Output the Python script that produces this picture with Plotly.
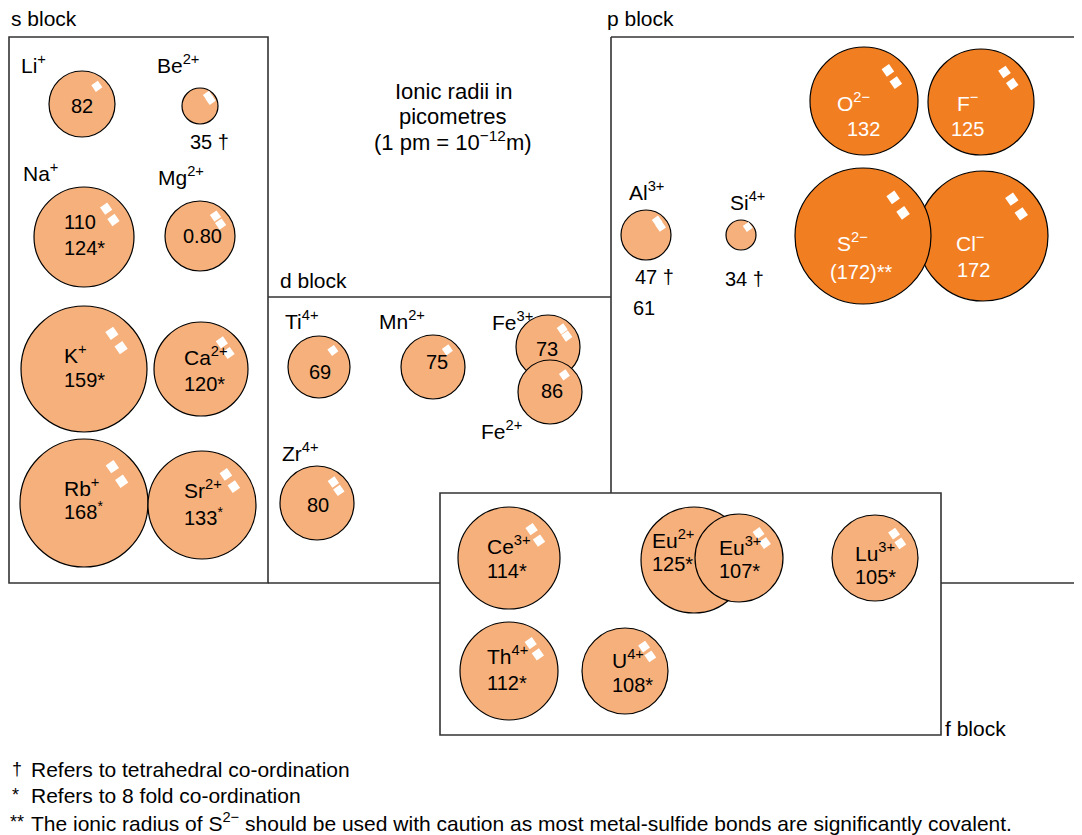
import math
import plotly.graph_objects as go

# ---- data: ion, radius text, colour group ----
ions = ["Li<sup>+</sup>", "Be<sup>2+</sup>", "Na<sup>+</sup>", "Mg<sup>2+</sup>", "K<sup>+</sup>", "Ca<sup>2+</sup>",
        "Rb<sup>+</sup>", "Sr<sup>2+</sup>",
        "Al<sup>3+</sup>", "Si<sup>4+</sup>", "Cl<sup>−</sup>", "S<sup>2−</sup>", "O<sup>2−</sup>", "F<sup>−</sup>",
        "Ti<sup>4+</sup>", "Mn<sup>2+</sup>", "Fe<sup>3+</sup>", "Fe<sup>2+</sup>", "Zr<sup>4+</sup>",
        "Ce<sup>3+</sup>", "Eu<sup>2+</sup>", "Eu<sup>3+</sup>", "Lu<sup>3+</sup>", "Th<sup>4+</sup>", "U<sup>4+</sup>"]
radii_text = ["82", "35 †", "110<br>124*", "0.80", "159*", "120*", "168<sup>*</sup>", "133<sup>*</sup>",
              "47 †", "34 †", "172", "(172)**", "132", "125",
              "69", "75", "73", "86", "80",
              "114*", "125*", "107*", "105*", "112*", "108*"]
anion = [False] * 10 + [True] * 4 + [False] * 11
al_octahedral = "61"

blocks = ["s block", "d block", "p block", "f block"]
title_lines = ["Ionic radii in", "picometres", "(1 pm = 10<sup>−12</sup>m)"]
notes_marks = ["†", "*", "**"]
notes_text = ["Refers to tetrahedral co-ordination",
              "Refers to 8 fold co-ordination",
              "The ionic radius of S<sup>2−</sup> should be used with caution as most metal-sulfide bonds are significantly covalent."]

# ---- placement (page pixels): circle centre/radius, ion label, value label ----
cx = [82, 200, 84, 200, 84, 201, 84, 202,
      646, 741, 983, 863, 864, 981,
      319, 433, 548, 550, 317,
      509, 694, 739, 875, 509, 625]
cy = [104, 106, 237, 236, 369, 369, 503, 505,
      235, 235, 236, 236, 101, 102,
      367, 367, 347, 392, 503,
      558, 560, 558, 558, 671, 671]
cr = [33, 18, 50, 35, 63, 47, 64, 54,
      25, 15, 65, 68, 54, 53,
      31, 32, 32, 32, 37,
      51, 53, 44, 43, 49, 43]
lab_xy = [(19, 64), (155, 64), (21, 172), (156, 176), (62, 354), (182, 356), (62, 487), (182, 489),
          (627, 191), (728, 201), (954, 242), (835, 242), (835, 102), (955, 102),
          (283, 320), (377, 320), (490, 321), (479, 430), (280, 452),
          (485, 545), (650, 539), (717, 546), (853, 552), (485, 655), (610, 659)]
val_xy = [(82, 106, "c"), (188, 142, "l"), (84, 235, "c"), (202, 236, "c"), (62, 380, "l"), (182, 384, "l"),
          (62, 510, "l"), (182, 516, "l"),
          (633, 277, "l"), (723, 279, "l"), (955, 270, "l"), (828, 272, "l"), (845, 129, "l"), (949, 129, "l"),
          (320, 372, "c"), (437, 362, "c"), (547, 349, "c"), (552, 391, "c"), (318, 505, "c"),
          (485, 571, "l"), (650, 564, "l"), (717, 571, "l"), (853, 577, "l"), (485, 683, "l"), (610, 685, "l")]
single_glint = {"Li<sup>+</sup>", "Ti<sup>4+</sup>", "Mn<sup>2+</sup>", "Si<sup>4+</sup>", "Fe<sup>2+</sup>"}

LIGHT = "#F6B07B"
DARK = "#F27E22"
LINE = "#333333"
FONT = "Liberation Sans"
PAD = 8  # page body margin

fig = go.Figure()
shapes = []
annotations = []


def glint(x, y, s, ang):
    pts = []
    for k in range(4):
        a = math.radians(ang + 90 * k)
        pts.append((x + s * math.cos(a), y + s * math.sin(a)))
    return "M " + " L ".join(f"{px:.1f} {py:.1f}" for px, py in pts) + " Z"


for i, ion in enumerate(ions):
    x, y, r = cx[i], cy[i], cr[i]
    fill = DARK if anion[i] else LIGHT
    shapes.append(dict(type="circle", x0=x - r, x1=x + r, y0=y - r, y1=y + r,
                       fillcolor=fill, line=dict(color="black", width=1.2), layer="above"))
    s = 4.5 + 0.035 * r
    spots = [(0.70, 50)] if ion in single_glint else [(0.72, 52), (0.68, 30)]
    for d, a in spots:
        gx = x + d * r * math.cos(math.radians(a))
        gy = y - d * r * math.sin(math.radians(a))
        shapes.append(dict(type="path", path=glint(gx, gy, s, 10), fillcolor="white",
                           line=dict(width=0), layer="above"))
    tcol = "white" if anion[i] else "black"
    lx, ly = lab_xy[i]
    annotations.append(dict(x=lx, y=ly, text=ion, xanchor="left", showarrow=False,
                            font=dict(family=FONT, size=21, color=tcol)))
    vx, vy, va = val_xy[i]
    annotations.append(dict(x=vx, y=vy, text=radii_text[i], showarrow=False,
                            xanchor="center" if va == "c" else "left", align="left",
                            font=dict(family=FONT, size=20, color=tcol)))

annotations.append(dict(x=631, y=308, text=al_octahedral, xanchor="left", showarrow=False,
                        font=dict(family=FONT, size=20, color="black")))

# block outlines
box = dict(color=LINE, width=1.6)
shapes += [
    dict(type="rect", x0=9, y0=37, x1=268, y1=583, line=box, layer="below"),
    dict(type="line", x0=268, y0=297, x1=611, y1=297, line=box, layer="below"),
    dict(type="line", x0=268, y0=583, x1=440, y1=583, line=box, layer="below"),
    dict(type="line", x0=611, y0=37, x1=611, y1=493, line=box, layer="below"),
    dict(type="line", x0=611, y0=37, x1=1084, y1=37, line=box, layer="below"),
    dict(type="line", x0=941, y0=583, x1=1084, y1=583, line=box, layer="below"),
    dict(type="rect", x0=440, y0=493, x1=941, y1=735, line=box, layer="below"),
]

block_xy = [(9, 18), (278, 280), (605, 18), (943, 728)]
for name, (bx, by) in zip(blocks, block_xy):
    annotations.append(dict(x=bx, y=by, text=name, xanchor="left", showarrow=False,
                            font=dict(family=FONT, size=21, color="black")))

for k, line in enumerate(title_lines):
    annotations.append(dict(x=453, y=91 + 25 * k, text=line, showarrow=False,
                            font=dict(family=FONT, size=22, color="black")))

for k, (m, t) in enumerate(zip(notes_marks, notes_text)):
    yy = 769 + 26.5 * k
    annotations.append(dict(x=8 if m == "**" else 10, y=yy - (1 if m == "*" else 0), text=m,
                            xanchor="left", showarrow=False,
                            font=dict(family=FONT, size=18, color="black")))
    annotations.append(dict(x=29, y=yy, text=t, xanchor="left", showarrow=False,
                            font=dict(family=FONT, size=21, color="black")))

fig.update_layout(
    width=1082 - PAD, height=835 - PAD,
    margin=dict(l=0, r=0, t=0, b=0),
    paper_bgcolor="white", plot_bgcolor="white",
    xaxis=dict(range=[PAD, 1082], visible=False, fixedrange=True),
    yaxis=dict(range=[835, PAD], visible=False, fixedrange=True),
    shapes=shapes, annotations=annotations,
    showlegend=False,
)

fig.write_html("out.html")
